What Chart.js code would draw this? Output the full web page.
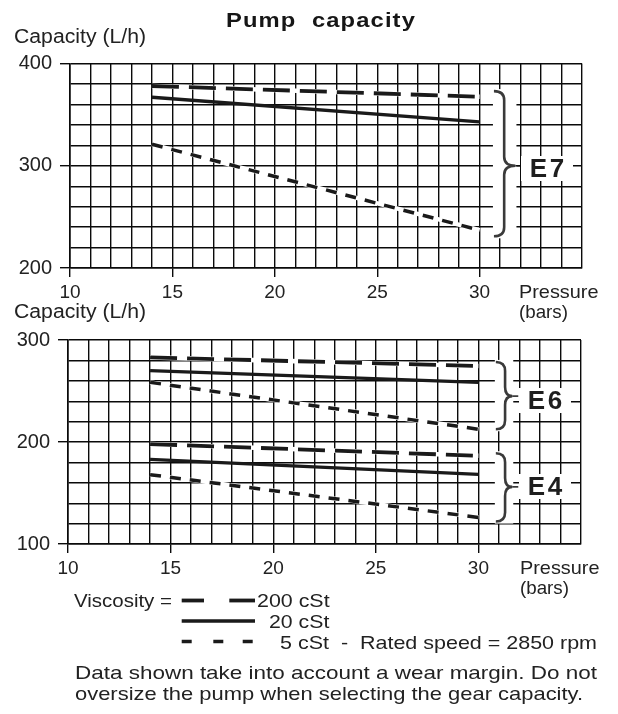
<!DOCTYPE html>
<html><head><meta charset="utf-8">
<script src="https://cdn.jsdelivr.net/npm/chart.js@4.4.1/dist/chart.umd.min.js"></script>
<style>
html,body{margin:0;padding:0;background:#fff;}
body{width:618px;height:714px;position:relative;overflow:hidden;font-family:"Liberation Sans",Arial,sans-serif;color:#222;}
.t{position:absolute;white-space:pre;transform-origin:0 50%;}
.elab{position:absolute;background:#fff;font-weight:bold;text-align:center;color:#1e1e1e;}
canvas{position:absolute;left:0;}
svg{position:absolute;left:0;top:0;}
</style></head><body>
<canvas id="c1" width="618" height="290" style="top:40px"></canvas>
<canvas id="c2" width="618" height="270" style="top:320px"></canvas>
<svg id="lg" width="618" height="714"></svg>
<script>
// ---------- data ----------
const pressure = [14, 30];              // bar
const xTickLabels = [10, 15, 20, 25, 30];
const topYLabels = [200, 300, 400];
const bottomYLabels = [100, 200, 300];
// E7 (top chart)
const e7_200cSt = [378, 367.5];
const e7_20cSt  = [367, 343];
const e7_5cSt   = [321, 237];
// E6 (bottom chart)
const e6_200cSt = [283, 274.5];
const e6_20cSt  = [270, 258.5];
const e6_5cSt   = [258.5, 212.5];
// E4 (bottom chart)
const e4_200cSt = [198, 186.5];
const e4_20cSt  = [183, 168.3];
const e4_5cSt   = [168, 126];

// ---------- styles ----------
const INK = '#1a1a1a';
const GRID = '#0a0a0a';
const STY = {
  '200': {w: 3.8, dash: [27, 10]},
  '20':  {w: 3.3, dash: []},
  '5':   {w: 3.5, dash: [11, 9]}
};
function series(vals, kind) {
  const pts = pressure.map((p, i) => ({x: p, y: vals[i]}));
  const s = STY[kind];
  const out = [{data: pts, borderColor: INK, borderWidth: s.w, borderDash: s.dash,
    borderCapStyle: 'butt', pointRadius: 0, tension: 0, order: 1}];
  if (s.dash.length) out.push({data: pts, borderColor: '#fff', borderWidth: s.w + 0.8,
    borderCapStyle: 'butt', pointRadius: 0, tension: 0, order: 5});
  return out;
}

function bracePlugin(braces) {
  return {
    id: 'braces',
    afterDatasetsDraw(chart) {
      const ctx = chart.ctx, xs = chart.scales.x, ys = chart.scales.y;
      braces.forEach(b => {
        const hx = xs.getPixelForValue(b.hook), bx = xs.getPixelForValue(b.body), tx = xs.getPixelForValue(b.tip);
        const y0 = ys.getPixelForValue(b.top), y1 = ys.getPixelForValue(b.bottom), ym = ys.getPixelForValue(b.mid);
        ctx.save();
        ctx.fillStyle = '#fff';
        ctx.fillRect(hx - 1, y0 - 2, tx - hx + 2, y1 - y0 + 4);
        ctx.strokeStyle = '#3a3a3a';
        ctx.lineWidth = 2.6;
        const r = 9;
        ctx.beginPath();
        ctx.moveTo(hx, y0);
        ctx.quadraticCurveTo(bx, y0, bx, y0 + r);
        ctx.lineTo(bx, ym - r);
        ctx.quadraticCurveTo(bx, ym, tx, ym);
        ctx.quadraticCurveTo(bx, ym, bx, ym + r);
        ctx.lineTo(bx, y1 - r);
        ctx.quadraticCurveTo(bx, y1, hx, y1);
        ctx.stroke();
        ctx.lineWidth = 1.4;
        ctx.strokeStyle = GRID;
        ctx.beginPath();
        ctx.moveTo(tx, ym); ctx.lineTo(tx + 6, ym);
        ctx.stroke();
        ctx.restore();
      });
    }
  };
}

function makeChart(id, datasets, yMin, yMax, yLabels, yWidth, xHeight, padTop, padRight, braces) {
  return new Chart(document.getElementById(id), {
    type: 'line',
    data: {datasets},
    options: {
      responsive: false, animation: false, devicePixelRatio: 1,
      layout: {padding: {top: padTop, right: padRight, left: 0, bottom: 0}},
      plugins: {legend: {display: false}, tooltip: {enabled: false}},
      scales: {
        x: {
          type: 'linear', min: 10, max: 35,
          ticks: {stepSize: 1, autoSkip: false, maxRotation: 0, padding: 4, color: '#222',
            font: {family: '"Liberation Sans", Arial, sans-serif', size: 19},
            callback: v => xTickLabels.includes(v) ? String(v) : ''},
          grid: {color: GRID, lineWidth: 1.4, drawTicks: true, tickLength: 9, tickWidth: 1.4,
            tickColor: c => (c.tick && xTickLabels.includes(c.tick.value)) ? GRID : 'rgba(0,0,0,0)'},
          border: {display: true, color: GRID, width: 1.6},
          afterFit: s => { s.height = xHeight; }
        },
        y: {
          type: 'linear', min: yMin, max: yMax,
          ticks: {stepSize: 20, autoSkip: false, padding: 8, color: '#222',
            font: {family: '"Liberation Sans", Arial, sans-serif', size: 20},
            callback: v => yLabels.includes(v) ? String(v) : ''},
          grid: {color: GRID, lineWidth: 1.4, drawTicks: true, tickLength: 10, tickWidth: 1.4,
            tickColor: c => (c.tick && yLabels.includes(c.tick.value)) ? GRID : 'rgba(0,0,0,0)'},
          border: {display: true, color: GRID, width: 1.6},
          afterFit: s => { s.width = yWidth; }
        }
      }
    },
    plugins: [bracePlugin(braces)]
  });
}

const topSets = [].concat(series(e7_200cSt, '200'), series(e7_20cSt, '20'), series(e7_5cSt, '5'));
const bottomSets = [].concat(series(e6_200cSt, '200'), series(e6_20cSt, '20'), series(e6_5cSt, '5'),
                         series(e4_200cSt, '200'), series(e4_20cSt, '20'), series(e4_5cSt, '5'));

makeChart('c1', topSets, 200, 400, topYLabels, 70, 62, 23.5, 36,
  [{hook: 30.7, body: 31.2, tip: 31.75, top: 373, bottom: 231, mid: 300}]);
makeChart('c2', bottomSets, 100, 300, bottomYLabels, 68, 46, 20, 37,
  [{hook: 30.85, body: 31.3, tip: 31.65, top: 278.5, bottom: 212.5, mid: 245},
   {hook: 30.85, body: 31.3, tip: 31.65, top: 189, bottom: 122, mid: 156}]);

// ---------- texts ----------
function place(text, left, cy, fs, width, opts) {
  opts = opts || {};
  const el = document.createElement('div');
  el.className = 't';
  el.textContent = text;
  el.style.left = left + 'px';
  el.style.fontSize = fs + 'px';
  el.style.lineHeight = fs + 'px';
  el.style.top = (cy - 0.49 * fs) + 'px';
  if (opts.bold) el.style.fontWeight = 'bold';
  if (opts.ls) el.style.letterSpacing = opts.ls + 'px';
  el.style.color = opts.color || '#222';
  document.body.appendChild(el);
  const w = el.getBoundingClientRect().width;
  if (width && w > 0) el.style.transform = 'scaleX(' + (width / w) + ')';
  return el;
}
place('Pump  capacity', 226, 19, 21, 190, {bold: true, ls: 1, color: '#161616'});
place('Capacity (L/h)', 13.5, 36.7, 19.5, 132);
place('Capacity (L/h)', 13.5, 311.7, 19.5, 132);
place('Pressure', 518.5, 291.7, 19, 79.5);
place('(bars)', 518.5, 311.7, 19, 49);
place('Pressure', 519.5, 567.5, 19, 79.5);
place('(bars)', 519.5, 587.5, 19, 49);

place('Viscosity =', 73.5, 601, 18.5, 98);
place('200 cSt', 256.7, 601, 18.5, 72.6);
place('20 cSt', 269, 622, 18.5, 60.3);
place('5 cSt  -  Rated speed = 2850 rpm', 280, 643, 18.5, 317);
place('Data shown take into account a wear margin. Do not', 75, 672.7, 18.5, 522);
place('oversize the pump when selecting the gear capacity.', 75, 694, 18.5, 508);

function eLabel(text, cx, cy, boxW, boxH) {
  const el = document.createElement('div');
  el.className = 'elab';
  el.textContent = text;
  el.style.left = (cx - boxW / 2) + 'px';
  el.style.top = (cy - boxH / 2) + 'px';
  el.style.width = boxW + 'px';
  el.style.height = boxH + 'px';
  el.style.fontSize = '26px';
  el.style.lineHeight = boxH + 'px';
  el.style.letterSpacing = '2.5px';
  el.style.textIndent = '2.5px';
  document.body.appendChild(el);
}
eLabel('E7', 547, 168, 52, 25);
eLabel('E6', 545, 400.5, 52, 25);
eLabel('E4', 545, 486.5, 52, 25);

// legend line samples
const svg = document.getElementById('lg');
function seg(x1, x2, y, w) {
  const l = document.createElementNS('http://www.w3.org/2000/svg', 'line');
  l.setAttribute('x1', x1); l.setAttribute('x2', x2);
  l.setAttribute('y1', y); l.setAttribute('y2', y);
  l.setAttribute('stroke', INK); l.setAttribute('stroke-width', w);
  svg.appendChild(l);
}
seg(181.7, 204, 600.5, 3.8); seg(229.3, 255, 600.5, 3.8);
seg(181.7, 255, 621, 3.3);
seg(181.7, 191.7, 641.5, 3.5); seg(213.3, 223.3, 641.5, 3.5); seg(242.7, 252.7, 641.5, 3.5);
</script>
</body></html>
